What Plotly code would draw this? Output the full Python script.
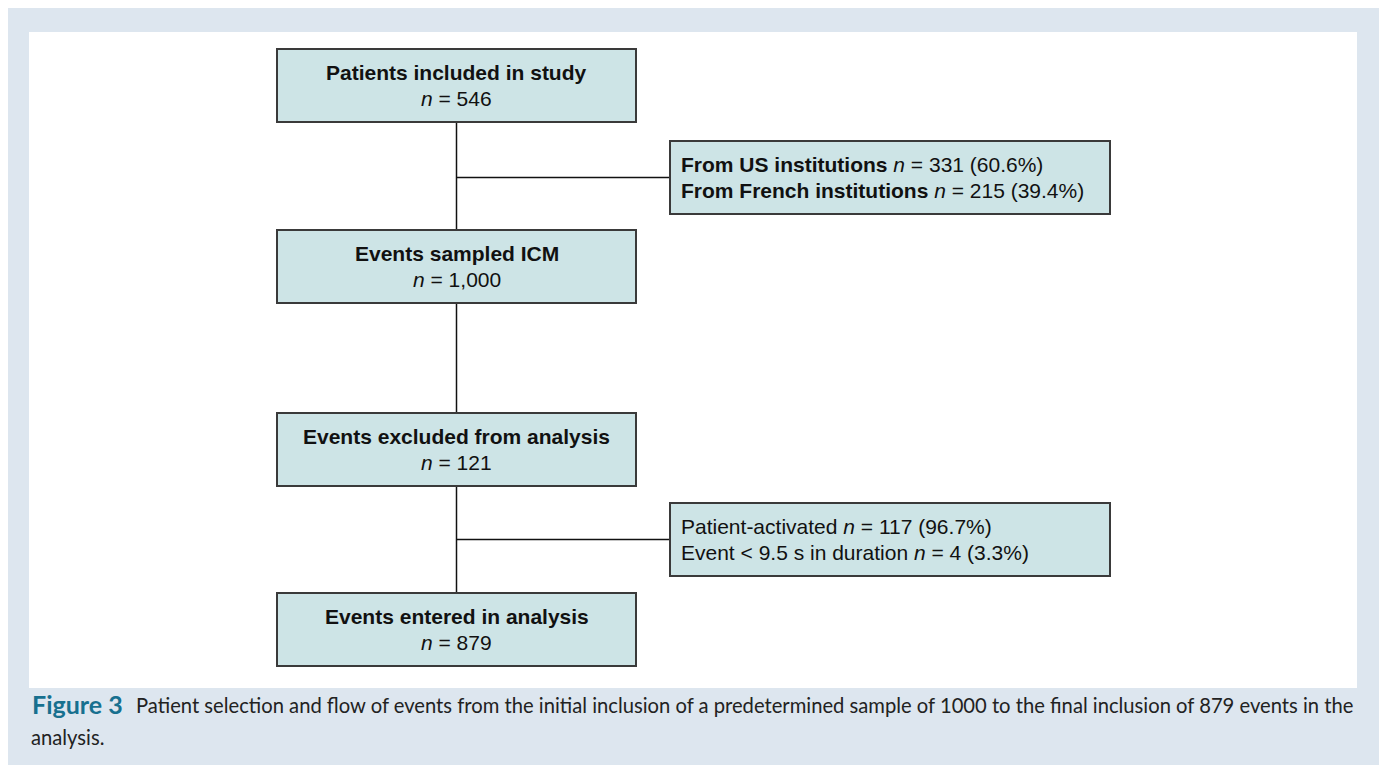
import plotly.graph_objects as go

# ---- data ----
main_titles = ["Patients included in study", "Events sampled ICM",
               "Events excluded from analysis", "Events entered in analysis"]
main_counts = ["546", "1,000", "121", "879"]

side_labels = [["From US institutions", "From French institutions"],
               ["Patient-activated", "Event < 9.5 s in duration"]]
side_counts = [["331", "215"], ["117", "4"]]
side_pcts = [["60.6%", "39.4%"], ["96.7%", "3.3%"]]
side_bold = [True, False]

caption_label = "Figure 3"
caption_text = ("Patient selection and flow of events from the initial inclusion of a predetermined "
                "sample of 1000 to the final inclusion of 879 events in the")
caption_text2 = "analysis."

# ---- layout (pixel geometry, page coordinates) ----
W, H = 1387, 765
OFF = 8  # default page body margin
main_x0, main_x1 = 277, 636
main_tops = [49, 230, 413, 593]
box_h = 73
side_x0, side_x1 = 670, 1110
side_tops = [141, 503]
line_gap = 26
fill = "#cde4e6"
edge = "#3a3a3a"
FONT = "Liberation Sans, Arial, sans-serif"
BOX_FS = 21

fig = go.Figure()
shapes = []
annotations = []

# background panel
shapes.append(dict(type="rect", x0=0, y0=8, x1=1382, y1=800, fillcolor="#dde6ef",
                   line=dict(width=0), layer="below"))
shapes.append(dict(type="rect", x0=29, y0=32, x1=1357, y1=688, fillcolor="white",
                   line=dict(width=0), layer="below"))

cx = (main_x0 + main_x1) / 2
# connectors
for i in range(len(main_tops) - 1):
    shapes.append(dict(type="line", x0=cx, x1=cx, y0=main_tops[i] + box_h, y1=main_tops[i + 1],
                       line=dict(color="#111", width=1.5)))
for t in side_tops:
    yc = t + box_h / 2
    shapes.append(dict(type="line", x0=cx, x1=side_x0, y0=yc, y1=yc,
                       line=dict(color="#111", width=1.5)))

# main boxes
for t, title, cnt in zip(main_tops, main_titles, main_counts):
    shapes.append(dict(type="rect", x0=main_x0, x1=main_x1, y0=t, y1=t + box_h,
                       fillcolor=fill, line=dict(color=edge, width=2)))
    yc = t + box_h / 2
    annotations.append(dict(x=cx, y=yc - line_gap / 2, text=f"<b>{title}</b>", showarrow=False,
                            xanchor="center", yanchor="middle",
                            font=dict(family=FONT, size=BOX_FS, color="#111")))
    annotations.append(dict(x=cx, y=yc + line_gap / 2, text=f"<i>n</i> = {cnt}", showarrow=False,
                            xanchor="center", yanchor="middle",
                            font=dict(family=FONT, size=BOX_FS, color="#111")))

# side boxes
for t, labels, cnts, pcts, bold in zip(side_tops, side_labels, side_counts, side_pcts, side_bold):
    shapes.append(dict(type="rect", x0=side_x0, x1=side_x1, y0=t, y1=t + box_h,
                       fillcolor=fill, line=dict(color=edge, width=2)))
    yc = t + box_h / 2
    for k, (lab, c, p) in enumerate(zip(labels, cnts, pcts)):
        lab_html = lab.replace("<", "&lt;")
        lab_html = f"<b>{lab_html}</b>" if bold else lab_html
        annotations.append(dict(x=side_x0 + 9, y=yc + (k - 0.5) * line_gap,
                                text=f"{lab_html} <i>n</i> = {c} ({p})", showarrow=False,
                                xanchor="left", yanchor="middle",
                                font=dict(family=FONT, size=BOX_FS, color="#111")))

# caption
annotations.append(dict(x=30, y=704, text=f"<b>{caption_label}</b>", showarrow=False,
                        xanchor="left", yanchor="middle",
                        font=dict(family="Lato, sans-serif", size=25, color="#17708f")))
annotations.append(dict(x=134, y=705, text=caption_text, showarrow=False,
                        xanchor="left", yanchor="middle",
                        font=dict(family="Lato, sans-serif", size=20.2, color="#222")))
annotations.append(dict(x=29, y=737, text=caption_text2, showarrow=False,
                        xanchor="left", yanchor="middle",
                        font=dict(family="Lato, sans-serif", size=20.2, color="#222")))

fig.update_layout(
    width=W - OFF, height=H - OFF, margin=dict(l=0, r=0, t=0, b=0),
    paper_bgcolor="white", plot_bgcolor="white",
    xaxis=dict(range=[OFF, W], visible=False, fixedrange=True),
    yaxis=dict(range=[H, OFF], visible=False, fixedrange=True),
    shapes=shapes, annotations=annotations, showlegend=False,
)
fig.write_html("out.html", config={"displayModeBar": False})
